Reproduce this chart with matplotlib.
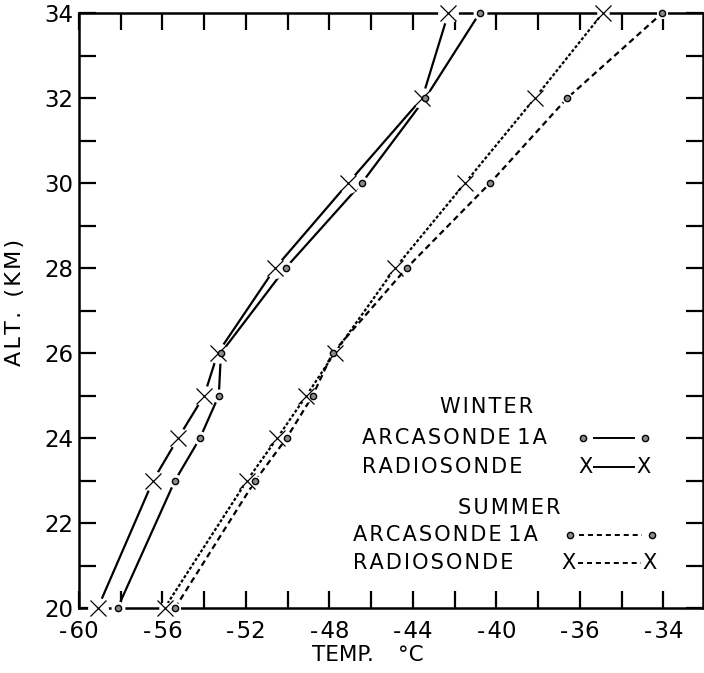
import matplotlib.pyplot as plt
from matplotlib.lines import Line2D

# altitude levels (km) where soundings were compared
alt = [20, 23, 24, 25, 26, 28, 30, 32, 34]

# temperatures (deg C)
winter_radio = [-59.1, -56.45, -55.25, -54.0, -53.35, -50.6, -47.1, -43.55, -42.3]
winter_arca = [-58.15, -55.4, -54.2, -53.3, -53.2, -50.1, -46.45, -43.4, -40.8]
summer_radio = [-55.9, -51.95, -50.5, -49.1, -47.75, -44.85, -41.5, -38.15, -34.9]
summer_arca = [-55.4, -51.55, -50.05, -48.8, -47.85, -44.3, -40.3, -36.6, -32.05]

# x tick labels as printed (last one reads -34 in the original)
xtick_pos = [-60, -56, -52, -48, -44, -40, -36, -32]
xtick_lab = ['-60', '-56', '-52', '-48', '-44', '-40', '-36', '-34']
ytick_pos = [20, 22, 24, 26, 28, 30, 32, 34]

HS = '\u200a'  # hair space, to open up the lettering a little


def spaced(s):
    return HS.join(s)


plt.rcParams['font.family'] = ['DejaVu Sans']

fig = plt.figure(figsize=(7.04, 6.73), dpi=100)
ax = fig.add_axes([79 / 704, 1 - 608 / 673, 624 / 704, 595 / 673])

dot_kw = dict(marker='o', ms=4.5, mfc='#8a8a8a', mec='black', mew=1.0)
x_kw = dict(marker='x', ms=11, mec='black', mew=0.9)

series = [
    (winter_radio, '-', x_kw, 15),
    (winter_arca, '-', dot_kw, 10),
    (summer_radio, (0, (1.4, 0.9)), x_kw, 9),
    (summer_arca, (0, (2.7, 1.8)), dot_kw, 8),
]

# lines first, then white halos to break the line around markers, then markers
for temps, ls, mk, halo in series:
    ax.plot(temps, alt, ls=ls, color='black', lw=1.6, zorder=2, clip_on=False)
for temps, ls, mk, halo in series:
    ax.plot(temps, alt, ls='none', marker='o', ms=halo, mfc='white', mec='none',
            zorder=3, clip_on=False)
for temps, ls, mk, halo in series:
    ax.plot(temps, alt, ls='none', zorder=4, clip_on=False, **mk)

ax.set_xlim(-60, -30.1)
ax.set_ylim(20, 34)

ax.set_xticks(xtick_pos)
ax.set_xticklabels([lab.replace('-', '-' + HS) for lab in xtick_lab])
ax.set_xticks([v for v in range(-58, -30, 2) if v not in xtick_pos], minor=True)
ax.set_yticks(ytick_pos)
ax.set_yticks(list(range(21, 34, 2)), minor=True)

ax.tick_params(which='both', direction='in', length=12, width=1.6,
               top=True, right=True, labelsize=16.5)
ax.tick_params(axis='x', pad=9)
ax.tick_params(axis='y', pad=4)
for sp in ax.spines.values():
    sp.set_linewidth(1.8)

fig.text(15 / 704, 1 - 302 / 673, spaced('ALT.') + '  ' + spaced('(KM)'), rotation=90,
         ha='center', va='center', fontsize=16)
fig.text(312 / 704, 1 - 655 / 673, 'TEMP.', ha='left', va='center', fontsize=15.5)
fig.text(398 / 704, 1 - 655 / 673, '°C', ha='left', va='center', fontsize=15.5)

# hand-drawn key
tk = dict(transform=ax.transAxes, fontsize=15, ha='left', va='center')
ax.text(0.579, 0.338, spaced('WINTER'), **tk)
ax.text(0.4535, 0.286, spaced('ARCASONDE') + ' ' + spaced('1A'), **tk)
ax.text(0.4535, 0.237, spaced('RADIOSONDE'), **tk)
ax.text(0.607, 0.168, spaced('SUMMER'), **tk)
ax.text(0.439, 0.123, spaced('ARCASONDE') + ' ' + spaced('1A'), **tk)
ax.text(0.439, 0.0756, spaced('RADIOSONDE'), **tk)

# winter key
ax.add_line(Line2D([0.825, 0.89], [0.286, 0.286], ls='-', color='black', lw=1.4,
                   transform=ax.transAxes))
ax.add_line(Line2D([0.8077, 0.907], [0.286, 0.286], ls='none', transform=ax.transAxes,
                   **dot_kw))
ax.add_line(Line2D([0.826, 0.889], [0.237, 0.237], ls='-', color='black', lw=1.4,
                   transform=ax.transAxes))
ax.text(0.811, 0.237, 'X', transform=ax.transAxes, fontsize=15, ha='center', va='center')
ax.text(0.904, 0.237, 'X', transform=ax.transAxes, fontsize=15, ha='center', va='center')

# summer key
ax.add_line(Line2D([0.802, 0.903], [0.123, 0.123], ls=(0, (2.6, 2.0)), color='black',
                   lw=1.4, transform=ax.transAxes))
ax.add_line(Line2D([0.787, 0.918], [0.123, 0.123], ls='none', transform=ax.transAxes,
                   **dot_kw))
ax.add_line(Line2D([0.8, 0.9], [0.0756, 0.0756], ls=(0, (2.6, 2.0)), color='black',
                   lw=1.4, transform=ax.transAxes))
ax.text(0.784, 0.0756, 'X', transform=ax.transAxes, fontsize=15, ha='center', va='center')
ax.text(0.915, 0.0756, 'X', transform=ax.transAxes, fontsize=15, ha='center', va='center')

fig.savefig('out.png', dpi=100)
